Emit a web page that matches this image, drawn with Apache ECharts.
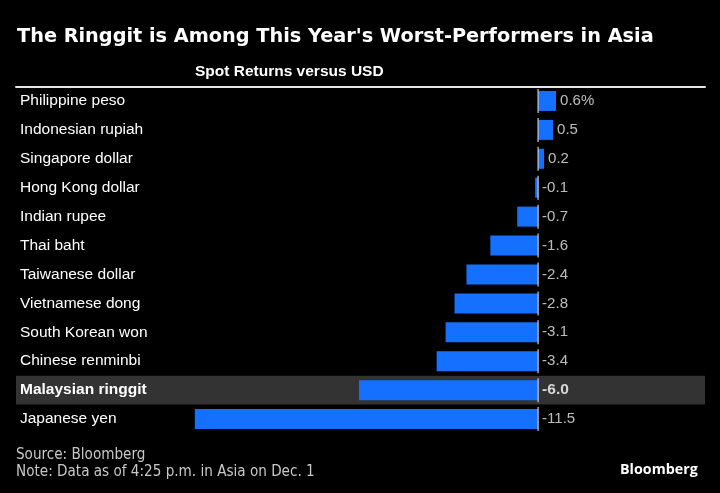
<!DOCTYPE html>
<html>
<head>
<meta charset="utf-8">
<script src="https://cdn.jsdelivr.net/npm/echarts@6/dist/echarts.min.js"></script>
<style>
html,body{margin:0;padding:0;background:#000;}
#chart{width:720px;height:493px;}
</style>
</head>
<body>
<div id="chart"></div>
<script>
const categories = ["Philippine peso","Indonesian rupiah","Singapore dollar","Hong Kong dollar","Indian rupee","Thai baht","Taiwanese dollar","Vietnamese dong","South Korean won","Chinese renminbi","Malaysian ringgit","Japanese yen"];
const returns = [0.6, 0.5, 0.2, -0.1, -0.7, -1.6, -2.4, -2.8, -3.1, -3.4, -6.0, -11.5];
const valueLabels = ["0.6%","0.5","0.2","-0.1","-0.7","-1.6","-2.4","-2.8","-3.1","-3.4","-6.0","-11.5"];
const highlighted = "Malaysian ringgit";

const chart = echarts.init(document.getElementById('chart'), null, {renderer:'canvas'});
const labelFont = "'Liberation Sans', Arial, Helvetica, sans-serif";

const option = {
  backgroundColor: '#000',
  animation: false,
  title: [
    {
      text: "The Ringgit is Among This Year's Worst-Performers in Asia",
      left: 12, top: 22,
      textStyle: {color:'#fff', fontFamily:"'DejaVu Sans', sans-serif", fontWeight:'bold', fontSize:19.3}
    },
    {
      text: "Spot Returns versus USD",
      left: 190, top: 59,
      textStyle: {color:'#fff', fontFamily:labelFont, fontWeight:'bold', fontSize:15.5}
    },
    {
      text: "Source: Bloomberg\nNote: Data as of 4:25 p.m. in Asia on Dec. 1",
      left: 11, top: 442,
      textStyle: {color:'#c8c8c8', fontFamily:"'DejaVu Sans Condensed', 'Liberation Sans Narrow', sans-serif", fontWeight:'normal', fontSize:15.1, lineHeight:16.8}
    },
    {
      text: "Bloomberg",
      left: 615, top: 458,
      textStyle: {color:'#fff', fontFamily:"'Open Sans', 'DejaVu Sans', sans-serif", fontWeight:'bold', fontSize:14.3}
    }
  ],
  grid: {left:16, right:15, top:86.5, bottom:59.5},
  xAxis: {
    type:'value', position:'top', min:-17.49, max:5.59,
    axisLine:{show:true, onZero:false, lineStyle:{color:'#e6e6e6', width:2}},
    axisTick:{show:false}, axisLabel:{show:false}, splitLine:{show:false}
  },
  yAxis: {
    type:'category', data:categories, inverse:true,
    axisLine:{show:false}, axisTick:{show:false},
    axisLabel:{
      inside:true, margin:4, interval:0, color:'#fff',
      fontFamily:labelFont, fontSize:15.5,
      formatter: v => v === highlighted ? '{b|' + v + '}' : v,
      rich:{b:{fontWeight:'bold', color:'#fff', fontFamily:labelFont, fontSize:15.5}}
    },
    splitLine:{show:false},
    splitArea:{show:true, interval:0, areaStyle:{color: categories.map(c => c === highlighted ? '#333333' : 'rgba(0,0,0,0)')}}
  },
  series: [
    {
      type:'bar', data:returns, barWidth:20, z:3,
      itemStyle:{color:'#1570ff'}
    },
    {
      type:'scatter', data:categories.map(() => 0), symbol:'rect', symbolSize:[1.5, 24], z:4,
      itemStyle:{color:'#cfcfcf'}, silent:true
    },
    {
      type:'scatter', data:returns.map(v => Math.max(v, 0)), symbolSize:0, z:5,
      label:{
        show:true, position:'right', distance:4,
        formatter: p => categories[p.dataIndex] === highlighted ? '{b|' + valueLabels[p.dataIndex] + '}' : valueLabels[p.dataIndex],
        color:'#e8e8e8', fontFamily:labelFont, fontSize:15,
        rich:{b:{fontWeight:'bold', color:'#fff', fontFamily:labelFont, fontSize:15.5}}
      }
    }
  ]
};
chart.setOption(option);
</script>
</body>
</html>
